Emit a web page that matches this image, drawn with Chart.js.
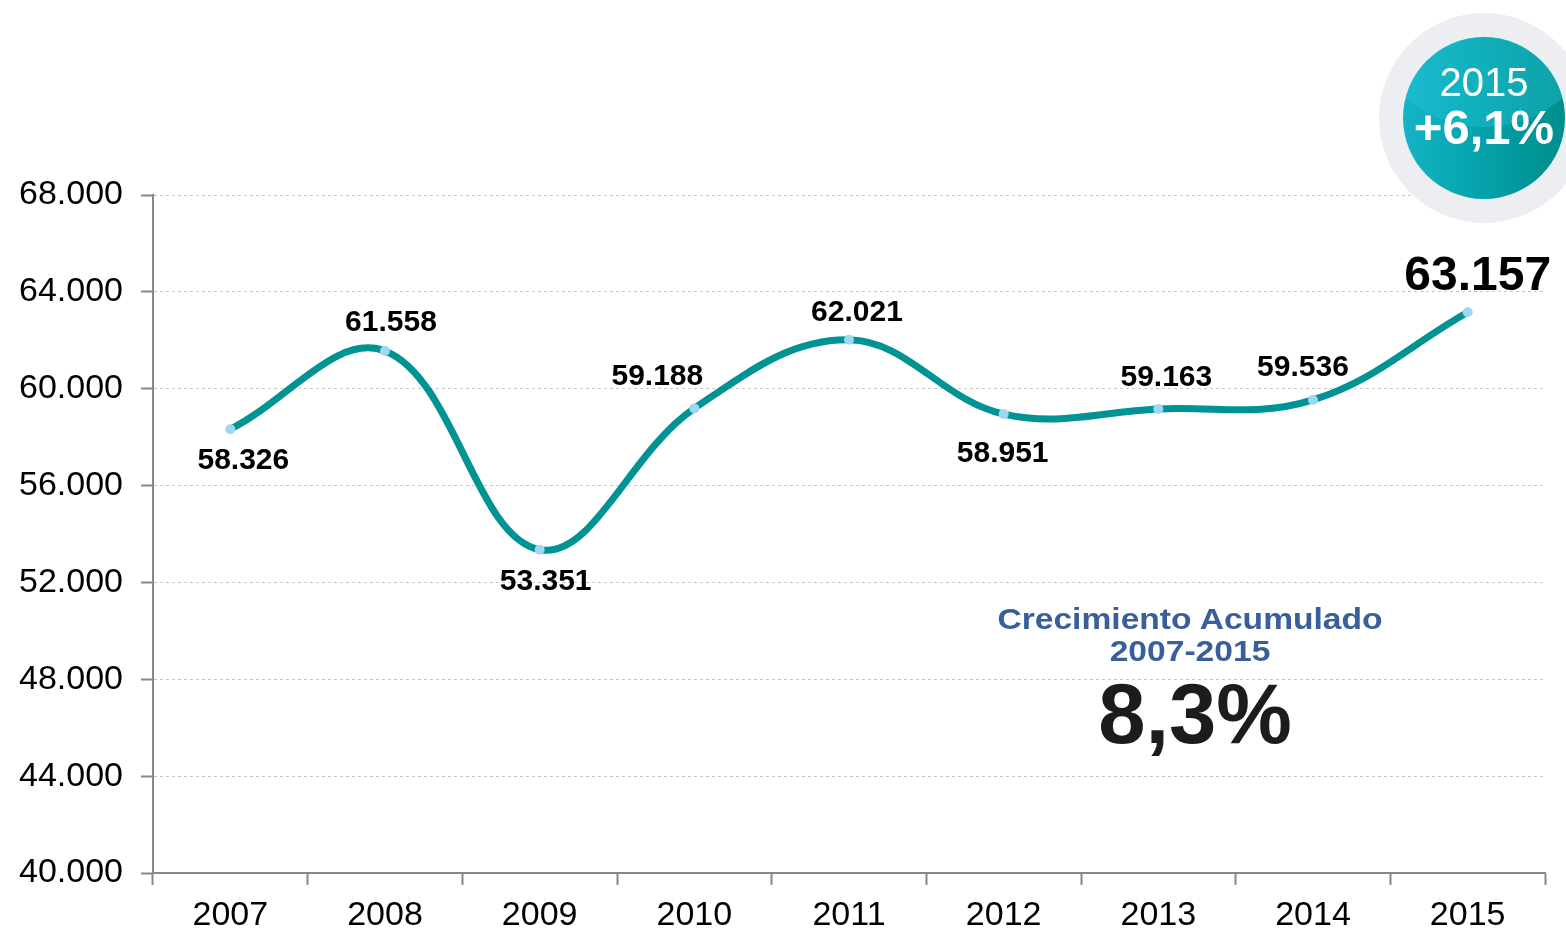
<!DOCTYPE html>
<html>
<head>
<meta charset="utf-8">
<script src="https://cdn.jsdelivr.net/npm/chart.js@4.4.1/dist/chart.umd.min.js"></script>
<style>
  body { margin: 0; background: #fff; font-family: "Liberation Sans", Arial, sans-serif; }
  #wrap { position: relative; width: 1566px; height: 931px; overflow: hidden; }
  #badgeOuter { position: absolute; left: 1379px; top: 13px; width: 210px; height: 210px; border-radius: 50%; background: #eceef2; }
  #badge { position: absolute; left: 1403px; top: 37px; width: 162px; height: 162px; border-radius: 50%; overflow: hidden;
    background: linear-gradient(to right, #14b4c6 0%, #06a3ad 45%, #009596 80%, #008e8c 100%); }
  #badge .cap { position: absolute; left: -30px; top: -110px; width: 222px; height: 200px; border-radius: 50%; background: rgba(40, 200, 220, 0.35); }
  #badge .t1 { position: absolute; left: 0; width: 162px; top: 22px; text-align: center; color: #fff; font-size: 40px; line-height: 46px; }
  #badge .t2 { position: absolute; left: 0; width: 162px; top: 62px; text-align: center; color: #fff; font-size: 49px; font-weight: bold; line-height: 56px; }
  #acum { position: absolute; left: 990px; top: 603px; width: 400px; text-align: center; color: #3a5e9c; font-weight: bold; font-size: 30px; line-height: 32px; transform: scaleX(1.12); }
  #acumVal { position: absolute; left: 995px; top: 664px; width: 400px; text-align: center; color: #1c1c1c; font-weight: bold; font-size: 85px; line-height: 100px; }
</style>
</head>
<body>
<div id="wrap">
  <canvas id="grafico"></canvas>
  <div id="badgeOuter"></div>
  <div id="badge"><div class="cap"></div><div class="t1">2015</div><div class="t2">+6,1%</div></div>
  <div id="acum">Crecimiento Acumulado<br>2007-2015</div>
  <div id="acumVal">8,3%</div>
</div>
<script>
// datos del grafico
var anios = ["2007", "2008", "2009", "2010", "2011", "2012", "2013", "2014", "2015"];
var valores = [58326, 61558, 53351, 59188, 62021, 58951, 59163, 59536, 63157];
var ejeMin = 40000;
var ejeMax = 68000;
var ejePaso = 4000;

// posicion de las etiquetas respecto a cada punto (dx, dy)
var desplazEtiquetas = [[13, 31], [6, -28], [6, 32], [-37, -32], [8, -27], [-1, 40], [8, -31], [-10, -32], [10, -36]];

// formato con punto de miles
function formatoMiles(n) {
  return String(Math.round(n)).replace(/\B(?=(\d{3})+(?!\d))/g, ".");
}

var etiquetasPlugin = {
  id: "etiquetas",
  afterDatasetsDraw: function(chart) {
    var ctx = chart.ctx;
    var meta = chart.getDatasetMeta(0);
    ctx.save();
    ctx.fillStyle = "#000";
    ctx.textAlign = "center";
    ctx.textBaseline = "middle";
    meta.data.forEach(function(pt, i) {
      var ultimo = i === meta.data.length - 1;
      ctx.font = "bold " + (ultimo ? 48 : 30) + "px 'Liberation Sans', Arial, sans-serif";
      var d = desplazEtiquetas[i];
      ctx.fillText(formatoMiles(valores[i]), pt.x + d[0], pt.y + d[1]);
    });
    ctx.restore();
  }
};

var c = document.getElementById("grafico");
c.width = 1566;
c.height = 931;

new Chart(c, {
  type: "line",
  data: {
    labels: anios,
    datasets: [{
      data: valores,
      borderColor: "#009393",
      borderWidth: 7,
      tension: 0.38,
      pointRadius: 5,
      pointBackgroundColor: "#9dd8f2",
      pointBorderWidth: 0,
      fill: false
    }]
  },
  options: {
    responsive: false,
    animation: false,
    layout: { padding: { top: 195, right: 21, left: 0, bottom: 0 } },
    plugins: { legend: { display: false }, tooltip: { enabled: false } },
    scales: {
      x: {
        offset: true,
        grid: { offset: true, drawOnChartArea: false, drawTicks: true, tickLength: 12, tickColor: "#888", tickWidth: 2 },
        border: { color: "#888", width: 2 },
        ticks: { color: "#000", font: { size: 34, family: "'Liberation Sans', Arial, sans-serif" }, padding: 10, maxRotation: 0 },
        afterFit: function(s) { s.height = 58; }
      },
      y: {
        min: ejeMin,
        max: ejeMax,
        grid: { color: "#c8c8c8", lineWidth: 1, tickLength: 12, tickColor: "#888", tickWidth: 2, tickBorderDash: [] },
        border: { color: "#888", width: 2, dash: [3, 3] },
        ticks: {
          stepSize: ejePaso,
          color: "#000",
          padding: 18,
          font: { size: 34, family: "'Liberation Sans', Arial, sans-serif" },
          callback: function(v) { return formatoMiles(v); }
        },
        afterFit: function(s) { s.width = 153; }
      }
    }
  },
  plugins: [etiquetasPlugin]
});
</script>
</body>
</html>
